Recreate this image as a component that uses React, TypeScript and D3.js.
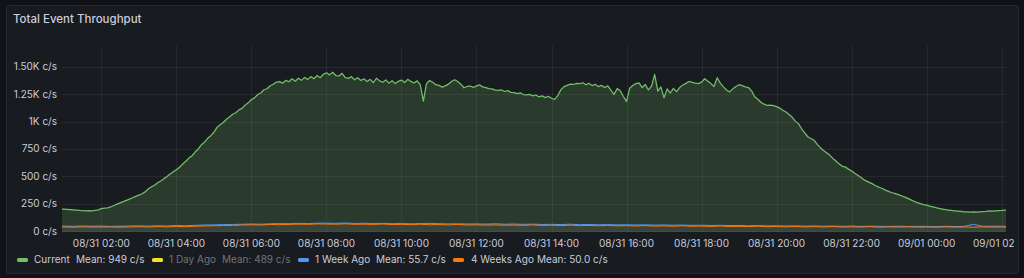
import React from 'react';
import * as d3 from 'd3';

const W = 1024;
const H = 278;

// ---- data ----
const currentStart = new Date(2024, 7, 31, 0, 50);
const currentStepMin = 5;
const currentValues = [
  203, 201,
  199, 197, 195, 193, 191, 188, 186, 184, 186, 185, 189, 193,
  205, 209, 211, 220, 233, 246, 257, 268, 280, 291, 304, 317,
  328, 341, 358, 384, 404, 419, 441, 457, 479, 499, 521, 541,
  561, 583, 612, 638, 667, 688, 722, 750, 788, 812, 848, 872,
  903, 948, 972, 992, 1022, 1043, 1068, 1082, 1108, 1122, 1152, 1172,
  1203, 1218, 1248, 1262, 1292, 1301, 1328, 1342, 1362, 1366, 1352, 1378,
  1365, 1392, 1370, 1397, 1378, 1405, 1386, 1412, 1393, 1422, 1402, 1432,
  1447, 1428, 1452, 1422, 1418, 1442, 1402, 1396, 1412, 1383, 1402, 1376,
  1392, 1368, 1387, 1358, 1397, 1373, 1360, 1382, 1352, 1374, 1348, 1369,
  1380, 1358, 1387, 1368, 1353, 1374, 1338, 1188, 1348, 1377, 1360, 1338,
  1332, 1316, 1327, 1343, 1367, 1384, 1368, 1343, 1310, 1322, 1326, 1313,
  1327, 1336, 1318, 1312, 1303, 1300, 1288, 1287, 1290, 1276, 1284, 1268,
  1266, 1256, 1264, 1248, 1246, 1250, 1236, 1244, 1226, 1236, 1220, 1232,
  1214, 1203, 1238, 1292, 1320, 1332, 1343, 1340, 1350, 1347, 1356, 1338,
  1350, 1330, 1342, 1320, 1332, 1313, 1327, 1288, 1248, 1302, 1283, 1230,
  1185, 1305, 1330, 1348, 1355, 1312, 1340, 1290, 1325, 1432, 1280, 1318,
  1218, 1300, 1262, 1305, 1275, 1312, 1335, 1350, 1368, 1360, 1352, 1348,
  1362, 1392, 1370, 1348, 1322, 1402, 1352, 1318, 1290, 1272, 1300, 1322,
  1338, 1330, 1318, 1312, 1282, 1228, 1205, 1178, 1160, 1148, 1152, 1146,
  1138, 1124, 1105, 1088, 1066, 1040, 1005, 982, 935, 898, 862, 846,
  830, 792, 762, 736, 716, 694, 664, 640, 614, 592, 586, 566,
  548, 528, 510, 490, 468, 454, 440, 426, 410, 398, 386, 372,
  360, 350, 342, 332, 322, 310, 298, 285, 272, 260, 250, 242,
  236, 228, 221, 213, 206, 201, 196, 192, 188, 185, 182, 179,
  176, 174, 172, 175, 173, 176, 178, 180, 183, 182, 185, 187,
  188, 190, 192,
];

const pastStart = new Date(2024, 7, 31, 0, 45);
const pastStepMin = 15;
const weekAgoValues = [
  44,
  45, 43, 46, 44,
  45, 42, 44, 46,
  47, 45, 48, 46,
  50, 48, 52, 55,
  56, 58, 60, 62,
  64, 62, 66, 68,
  67, 70, 68, 71,
  72, 70, 73, 69,
  71, 68, 70, 67,
  69, 66, 68, 70,
  67, 65, 66, 64,
  65, 63, 66, 62,
  64, 61, 63, 60,
  61, 59, 62, 58,
  60, 57, 58, 56,
  57, 55, 56, 54,
  55, 53, 54, 52,
  53, 51, 52, 50,
  51, 48, 50, 47,
  48, 46, 47, 45,
  46, 44, 45, 43,
  45, 42, 44, 43,
  42, 44, 41, 43,
  42, 40, 43, 41,
  42, 62, 43, 44,
  43, 42,
];
const fourWeeksAgoValues = [
  36,
  37, 35, 38, 36,
  36, 38, 35, 37,
  39, 37, 40, 38,
  42, 40, 44, 46,
  48, 50, 52, 55,
  57, 55, 60, 58,
  60, 63, 61, 65,
  64, 62, 66, 61,
  63, 60, 64, 59,
  61, 58, 62, 57,
  59, 56, 60, 55,
  57, 54, 56, 53,
  55, 52, 56, 51,
  53, 50, 54, 49,
  51, 48, 52, 47,
  49, 46, 50, 45,
  47, 44, 48, 43,
  45, 42, 46, 41,
  43, 40, 44, 39,
  41, 38, 42, 37,
  40, 37, 41, 36,
  39, 36, 40, 35,
  38, 36, 39, 35,
  37, 35, 38, 36,
  37, 35, 38, 36,
  37, 36,
];

const yTickValues = [0, 250, 500, 750, 1000, 1250, 1500];
const yTickLabels = ['0 c/s', '250 c/s', '500 c/s', '750 c/s', '1K c/s', '1.25K c/s', '1.50K c/s'];
const legendNames = ['Current', '1 Day Ago', '1 Week Ago', '4 Weeks Ago'];
const legendMeans = ['Mean: 949 c/s', 'Mean: 489 c/s', 'Mean: 55.7 c/s', 'Mean: 50.0 c/s'];
const legendHidden = [false, true, false, false];
const seriesColors = ['#73bf69', '#fade2a', '#5794f2', '#ff780a'];
const title = 'Total Event Throughput';

const domainStart = new Date(2024, 7, 31, 0, 57);
const domainEnd = new Date(2024, 8, 1, 2, 7);
const yMax = 1692;

// ---- layout ----
const plotL = 62;
const plotR = 1006;
const plotT = 46;
const plotB = 231;
const FONT = 'Inter, "Noto Sans", sans-serif';
const TEXT = '#ccccdc';
const legendDashX = [17, 152, 298, 453];
const legendNameX = [34, 169, 315, 471];
const legendMeanX = [76, 222, 376, 537];

function toPoints(start: Date, stepMin: number, values: number[]) {
  return values.map((v, i) => ({ t: new Date(+start + i * stepMin * 60000), v }));
}

export default function App() {
  const x = d3.scaleTime().domain([domainStart, domainEnd]).range([plotL, plotR]);
  const y = d3.scaleLinear().domain([0, yMax]).range([plotB, plotT]);

  const cur = toPoints(currentStart, currentStepMin, currentValues);
  const week = toPoints(pastStart, pastStepMin, weekAgoValues);
  const four = toPoints(pastStart, pastStepMin, fourWeeksAgoValues);

  const line = d3.line<{ t: Date; v: number }>().x(d => x(d.t)).y(d => y(d.v)).curve(d3.curveLinear);
  const area = d3.area<{ t: Date; v: number }>().x(d => x(d.t)).y0(plotB + 1).y1(d => y(d.v));

  const xTicks = d3.timeHour.every(2)!.range(domainStart, domainEnd);
  const fmt = d3.timeFormat('%m/%d %H:%M');

  const grid = 'rgba(204,204,220,0.08)';
  const dim = 'rgba(204,204,220,0.5)';

  return (
    <svg width={W} height={H} style={{ position: 'absolute', left: 0, top: 0, display: 'block' }} fontFamily={FONT}>
      <defs>
        <clipPath id="plotClip">
          <rect x={plotL} y={plotT} width={plotR - plotL} height={plotB - plotT + 1} />
        </clipPath>
        <clipPath id="panelClip">
          <rect x={7} y={6} width={1007} height={266} />
        </clipPath>
      </defs>
      <rect x={0} y={0} width={W} height={H} fill="#111217" />
      <rect x={6.5} y={5.5} width={1012} height={268} rx={2} fill="#181b1f" stroke="#26292f" />
      <text x={13} y={23} fill={TEXT} fontSize={11.5} fontWeight={500}>{title}</text>

      {/* grid */}
      <g>
        {yTickValues.map(v => (
          <line key={'h' + v} x1={plotL} x2={plotR} y1={Math.round(y(v)) + 0.5} y2={Math.round(y(v)) + 0.5} stroke={grid} />
        ))}
        {xTicks.map(t => (
          <line key={'v' + +t} x1={Math.round(x(t)) + 0.5} x2={Math.round(x(t)) + 0.5} y1={plotT} y2={plotB + 1} stroke={grid} />
        ))}
      </g>

      {/* series */}
      <g clipPath="url(#plotClip)">
        <path d={area(cur) || ''} fill="rgba(115,191,105,0.2)" />
        <path d={area(week) || ''} fill="rgba(87,148,242,0.08)" />
        <path d={area(four) || ''} fill="rgba(255,120,10,0.06)" />
        <path d={line(cur) || ''} fill="none" stroke={seriesColors[0]} strokeWidth={1.25} strokeLinejoin="round" />
        <path d={line(week) || ''} fill="none" stroke={seriesColors[2]} strokeWidth={1} />
        <path d={line(four) || ''} fill="none" stroke={seriesColors[3]} strokeWidth={1} />
      </g>

      {/* y axis labels */}
      {yTickValues.map((v, i) => (
        <text key={'yl' + v} x={57} y={y(v)} dy="0.35em" textAnchor="end" fill={TEXT} fontSize={10}>
          {yTickLabels[i]}
        </text>
      ))}

      {/* x axis labels */}
      <g clipPath="url(#panelClip)">
        {xTicks.map(t => (
          <text key={'xl' + +t} x={x(t)} y={246.5} textAnchor="middle" fill={TEXT} fontSize={10}>
            {fmt(t)}
          </text>
        ))}
      </g>

      {/* legend */}
      {legendNames.map((name, i) => (
        <g key={name}>
          <rect x={legendDashX[i]} y={258} width={11} height={4} rx={1.5} fill={seriesColors[i]} />
          <text x={legendNameX[i]} y={263} fill={legendHidden[i] ? dim : TEXT} fontSize={10}>{name}</text>
          <text x={legendMeanX[i]} y={263} fill={legendHidden[i] ? dim : TEXT} fontSize={10}>{legendMeans[i]}</text>
        </g>
      ))}
    </svg>
  );
}
